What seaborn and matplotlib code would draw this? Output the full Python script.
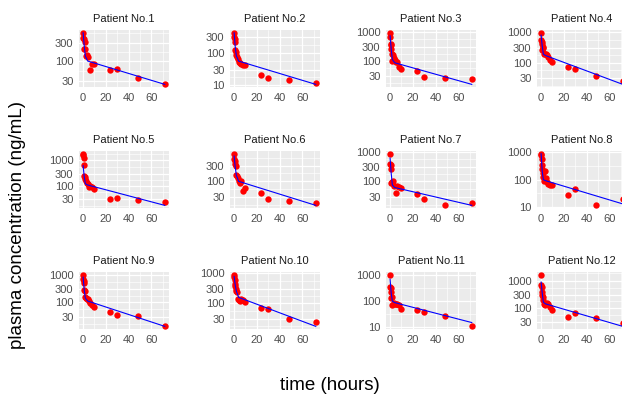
import numpy as np
import pandas as pd
import matplotlib
matplotlib.use("Agg")
import matplotlib.pyplot as plt
import seaborn as sns
from matplotlib.ticker import FixedLocator, FixedFormatter, NullFormatter

nan = np.nan

# Sampling schedule (hours after dose) shared by all patients
SAMPLE_TIMES = [0.08, 0.25, 0.5, 0.75, 1, 1.5, 2, 2.5, 3, 4, 5, 6, 8, 10, 24, 30, 48, 72]

# Observed plasma concentrations (ng/mL), one list per patient
CONC_P1 = [568, 415, 208, 375, nan, 316, 212, 137, 146, 131, nan, 57, 86, 81, 59, 60, 35, 25]
CONC_P2 = [417, 312, 257, 217, 124, 105, 82, 73, 65, 53, 47, 45, 43, 42, 21, 16, 14.4, 11.8]
CONC_P3 = [950, 655, 375, 338, 260, 170, 100, 162, 124, 103, 90, 89, 59, 50, 43, 27.5, 24.6, 24]
CONC_P4 = [975, 550, 460, 254, 395, 330, 305, 196, 190, 186, 173, 151, 126, 108, 70, 61, 35, 24.6]
CONC_P5 = [1850, 1580, 1290, 670, 236, 215, 185, 149, 128, 116, 91, 100, 86, 76, 31, 34, 29, 23]
CONC_P6 = [770, 500, 430, 360, nan, 300, 154, 147, 120, 100, 84, 100, 46, 57, 39, 26, 21, 18.5]
CONC_P7 = [855, 370, 365, 264, 85, 97, 88, 102, 71, nan, 40, 67, 66, 59, 37, 25, 16, 18]
CONC_P8 = [895, 820, 585, 335, 253, 175, 125, 89, 207, 115, 82, 71, 62, 62, 28, 47, 11.5, 20]
CONC_P9 = [1000, 675, 570, 495, 268, 253, 152, 144, 132, 125, 109, 95, 76, 69, 43, 34.5, 32.5, 14]
CONC_P10 = [900, 750, 575, 445, 360, 300, 263, 230, 137, 130, 120, 137, 126, 105, 68, 61, 28.5, 23]
CONC_P11 = [1050, 345, 314, 232, 135, 148, 74, nan, 86, 81, 81, 76, 70, 48, 44, 39, 26, 10.7]
CONC_P12 = [1660, 715, 585, 385, 290, 253, 190, 144, 125, nan, 152, 144, 109, 82, 47, 66, 43, 28]

# Fitted two-compartment curves, evaluated at these times
FIT_TIMES = [0, 1, 2, 4, 72]
FIT_P1 = [568, 250, 135, 100, 24]
FIT_P2 = [417, 150, 80, 55, 10.5]
FIT_P3 = [745, 250, 110, 85, 15]
FIT_P4 = [810, 350, 190, 170, 19]
FIT_P5 = [630, 230, 120, 108, 17]
FIT_P6 = [650, 280, 150, 95, 15.5]
FIT_P7 = [610, 180, 75, 62, 15.5]
FIT_P8 = [900, 200, 100, 92, 13]
FIT_P9 = [820, 280, 140, 110, 13.2]
FIT_P10 = [790, 400, 250, 155, 16.5]
FIT_P11 = [705, 200, 100, 88, 15]
FIT_P12 = [900, 350, 160, 140, 21]

PATIENTS = [f"Patient No.{i}" for i in range(1, 13)]
OBSERVED = [CONC_P1, CONC_P2, CONC_P3, CONC_P4, CONC_P5, CONC_P6,
            CONC_P7, CONC_P8, CONC_P9, CONC_P10, CONC_P11, CONC_P12]
FITTED = [FIT_P1, FIT_P2, FIT_P3, FIT_P4, FIT_P5, FIT_P6,
          FIT_P7, FIT_P8, FIT_P9, FIT_P10, FIT_P11, FIT_P12]

obs_df = pd.concat([pd.DataFrame({"patient": p, "time": SAMPLE_TIMES, "conc": c})
                    for p, c in zip(PATIENTS, OBSERVED)]).dropna()
fit_df = pd.concat([pd.DataFrame({"patient": p, "time": FIT_TIMES, "conc": c})
                    for p, c in zip(PATIENTS, FITTED)])

sns.set_style("white")
plt.rcParams["font.family"] = ["Liberation Sans", "DejaVu Sans"]

W, H = 622, 397
fig = plt.figure(figsize=(W / 100, H / 100), dpi=100)

COL_LEFT = [79, 230, 386, 537]
ROW_TOP = [30, 151, 272]
PW, PH = 90, 57


def log_breaks(lo, hi):
    """Breaks on a log10 axis: powers of ten, or 1-3 steps when too few."""
    dec = range(int(np.floor(np.log10(lo))) - 1, int(np.ceil(np.log10(hi))) + 2)
    major = [10.0 ** k for k in dec if lo <= 10.0 ** k <= hi]
    if len(major) >= 3:
        return major
    cand = sorted([m * 10.0 ** k for k in dec for m in (1, 3)])
    return [v for v in cand if lo <= v <= hi]


def minor_between(breaks, lo, hi):
    lb = list(np.log10(breaks))
    if len(lb) < 2:
        return []
    step = lb[1] - lb[0]
    if np.log10(lo) < lb[0]:
        lb = [lb[0] - step] + lb
    if np.log10(hi) > lb[-1]:
        lb = lb + [lb[-1] + step]
    mids = [(a + b) / 2 for a, b in zip(lb[:-1], lb[1:])]
    return [10 ** m for m in mids if lo <= 10 ** m <= hi]


for i, patient in enumerate(PATIENTS):
    r, c = divmod(i, 4)
    left, top = COL_LEFT[c], ROW_TOP[r]
    ax = fig.add_axes([left / W, 1 - (top + PH) / H, PW / W, PH / H])
    ax.set_facecolor("#EBEBEB")
    ax.set_axisbelow(True)

    pts = obs_df[obs_df.patient == patient]
    fit = fit_df[fit_df.patient == patient]
    sns.scatterplot(data=pts, x="time", y="conc", ax=ax, color="#FF0000",
                    s=21, linewidth=0, zorder=3, legend=False)
    sns.lineplot(data=fit, x="time", y="conc", ax=ax, color="#0000FF",
                 linewidth=0.8, estimator=None, zorder=4, legend=False)

    ax.set_yscale("log")
    allv = np.concatenate([pts.conc.values, fit.conc.values])
    llo, lhi = np.log10(allv.min()), np.log10(allv.max())
    pad = 0.05 * (lhi - llo)
    ylo, yhi = 10 ** (llo - pad), 10 ** (lhi + pad)
    ax.set_ylim(ylo, yhi)
    ax.set_xlim(-3.6, 75.6)

    yb = log_breaks(ylo, yhi)
    ax.yaxis.set_major_locator(FixedLocator(yb))
    ax.yaxis.set_major_formatter(FixedFormatter([f"{v:g}" for v in yb]))
    ax.yaxis.set_minor_locator(FixedLocator(minor_between(yb, ylo, yhi)))
    ax.yaxis.set_minor_formatter(NullFormatter())
    ax.xaxis.set_major_locator(FixedLocator([0, 20, 40, 60]))
    ax.xaxis.set_minor_locator(FixedLocator([10, 30, 50, 70]))

    ax.grid(which="major", color="white", linewidth=0.9)
    ax.grid(which="minor", color="white", linewidth=0.45)
    for s in ax.spines.values():
        s.set_visible(False)
    ax.tick_params(which="major", length=2.5, width=0.6, color="#333333",
                   labelsize=8, labelcolor="#4D4D4D", pad=1.5)
    ax.tick_params(which="minor", length=0)
    ax.set_xlabel("")
    ax.set_ylabel("")

    fig.text((left + PW / 2) / W, 1 - (top - 11) / H, patient,
             ha="center", va="center", fontsize=8, color="#1A1A1A")

fig.text(18 / W, 1 - 225 / H, "plasma concentration (ng/mL)", rotation=90,
         ha="center", va="center", fontsize=13.5, color="black")
fig.text(330 / W, 1 - 385 / H, "time (hours)", ha="center", va="center",
         fontsize=13.5, color="black")

fig.savefig("out.png", dpi=100, facecolor="white")
